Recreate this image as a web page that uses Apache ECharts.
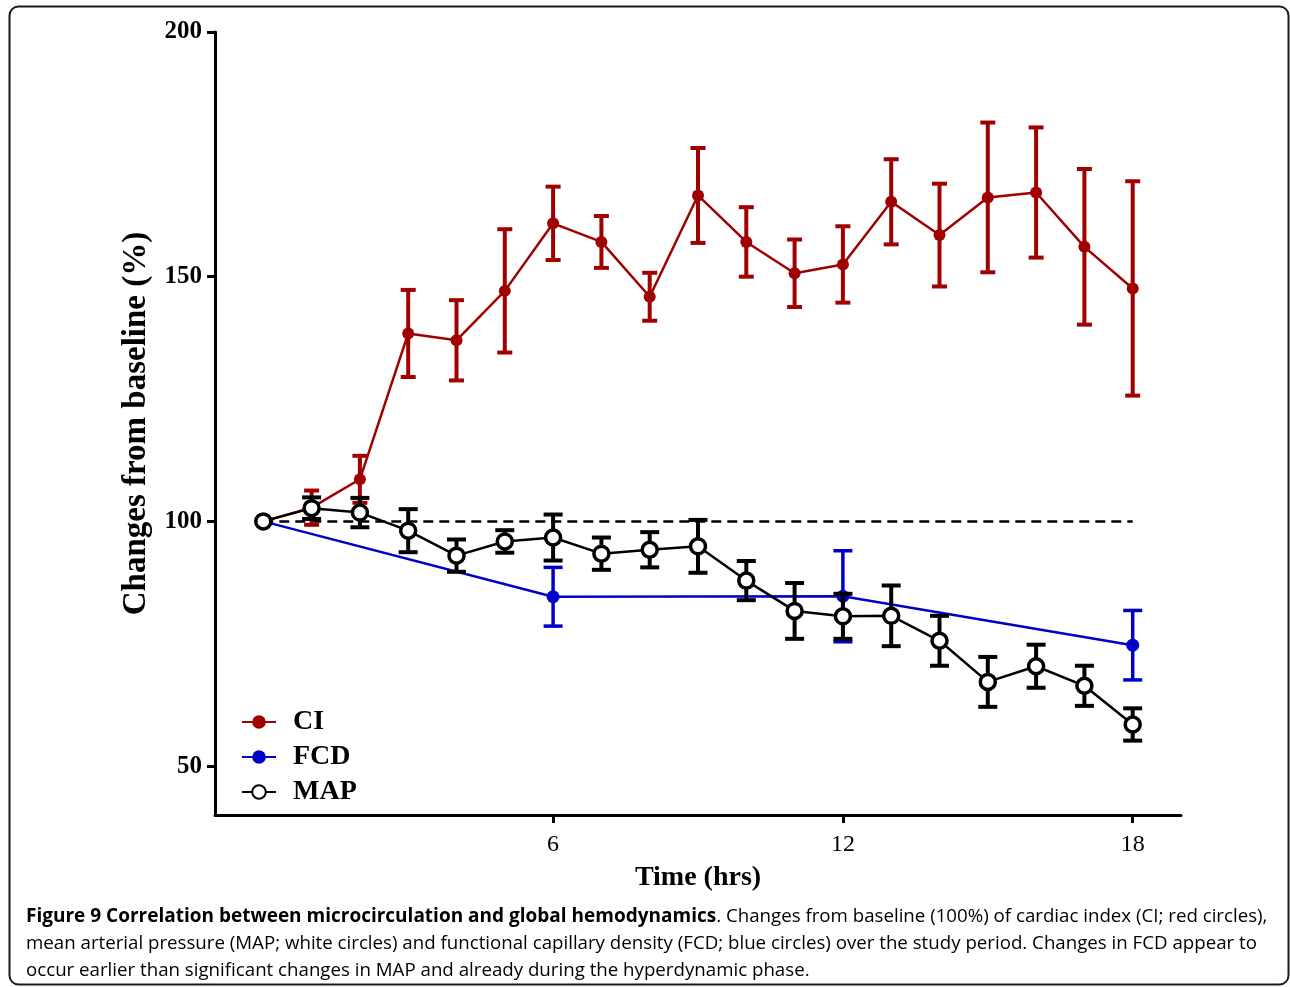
<!DOCTYPE html>
<html>
<head>
<meta charset="utf-8">
<script src="https://cdn.jsdelivr.net/npm/echarts@6/dist/echarts.min.js"></script>
<style>
html,body{margin:0;padding:0;background:#fff;}
#chart{width:1290px;height:987px;}
</style>
</head>
<body>
<div id="chart"></div>
<script>
// ---- data ----
var hours = [0,1,2,3,4,5,6,7,8,9,10,11,12,13,14,15,16,17,18];
var ciMean = [100,102.8,108.6,138.4,137.0,147.1,160.9,157.1,145.9,166.6,157.1,150.7,152.5,165.3,158.5,166.2,167.2,156.1,147.6];
var ciErr  = [0,3.5,4.8,8.9,8.2,12.6,7.5,5.3,4.9,9.7,7.1,6.9,7.8,8.7,10.5,15.3,13.3,15.9,21.9];
var mapMean = [100,102.7,101.8,98.1,93.0,95.9,96.7,93.4,94.2,94.9,87.9,81.7,80.6,80.7,75.6,67.2,70.4,66.4,58.5];
var mapErr  = [0,2.2,3.0,4.4,3.3,2.3,4.7,3.3,3.6,5.4,4.0,5.7,4.6,6.2,5.1,5.1,4.4,4.1,3.3];
var fcdHours = [0,6,12,18];
var fcdMean = [100,84.6,84.7,74.7];
var fcdErr  = [0,6.0,9.3,7.1];
var baselineHours = [0,18];
var baselineValue = 100;
var xTicks = [6,12,18];
var yTicks = [50,100,150,200];

var captionBold = 'Figure 9 Correlation between microcirculation and global hemodynamics';
var captionLines = [
  '. Changes from baseline (100%) of cardiac index (CI; red circles),',
  'mean arterial pressure (MAP; white circles) and functional capillary density (FCD; blue circles) over the study period. Changes in FCD appear to',
  'occur earlier than significant changes in MAP and already during the hyperdynamic phase.'
];

// ---- helpers ----
function pts(xs, ys){ return xs.map(function(x,i){ return [x, ys[i]]; }); }
function errData(xs, m, e){
  var out = [];
  xs.forEach(function(x,i){ if (e[i] > 0) out.push([x, m[i]-e[i], m[i]+e[i]]); });
  return out;
}
function errRender(color, capW, lw){
  return function(params, api){
    var x = api.value(0), lo = api.value(1), hi = api.value(2);
    var a = api.coord([x, lo]), b = api.coord([x, hi]);
    var h = capW/2;
    var st = {stroke: color, lineWidth: lw, lineCap: 'butt'};
    return {type:'group', children:[
      {type:'line', shape:{x1:a[0], y1:a[1], x2:b[0], y2:b[1]}, style:st},
      {type:'line', shape:{x1:a[0]-h, y1:a[1], x2:a[0]+h, y2:a[1]}, style:st},
      {type:'line', shape:{x1:b[0]-h, y1:b[1], x2:b[0]+h, y2:b[1]}, style:st}
    ]};
  };
}

var RED = '#a00000', BLUE = '#0000c8', BLACK = '#000000';
var SERIF = '"Liberation Serif","Times New Roman",serif';

var chart = echarts.init(document.getElementById('chart'), null, {renderer:'canvas'});
chart.setOption({
  animation: false,
  backgroundColor: '#ffffff',
  grid: {left: 215, right: 109, top: 32, bottom: 172, containLabel: false},
  xAxis: {
    type: 'value', min: -1, max: 19,
    name: 'Time (hrs)', nameLocation: 'middle', nameGap: 49,
    nameTextStyle: {fontFamily: SERIF, fontWeight: 'bold', fontSize: 28, color: '#000'},
    axisLine: {show: true, onZero: false, lineStyle: {color: '#000', width: 3}},
    axisTick: {show: true, length: 8, lineStyle: {color: '#000', width: 3}, customValues: xTicks},
    axisLabel: {customValues: xTicks, fontFamily: SERIF, fontSize: 24, color: '#000', margin: 18},
    splitLine: {show: false}
  },
  yAxis: {
    type: 'value', min: 40, max: 200,
    name: 'Changes from baseline (%)', nameLocation: 'middle', nameGap: 62,
    nameTextStyle: {fontFamily: SERIF, fontWeight: 'bold', fontSize: 33, color: '#000'},
    axisLine: {show: true, onZero: false, lineStyle: {color: '#000', width: 3}},
    axisTick: {show: true, length: 8, lineStyle: {color: '#000', width: 3}, customValues: yTicks},
    axisLabel: {customValues: yTicks, fontFamily: SERIF, fontWeight: 'bold', fontSize: 25, color: '#000', margin: 13},
    splitLine: {show: false}
  },
  legend: {
    orient: 'vertical', left: 236, top: 703,
    itemWidth: 34, itemHeight: 17, itemGap: 7,
    data: ['CI','FCD','MAP'],
    textStyle: {fontFamily: SERIF, fontWeight: 'bold', fontSize: 28, color: '#000', lineHeight: 28, padding: [0,0,0,12]}
  },
  series: [
    {
      name: 'baseline', type: 'line', data: pts(baselineHours, [baselineValue, baselineValue]),
      symbol: 'none', z: 2, silent: true,
      lineStyle: {color: '#000', width: 2.5, type: [10,6]}
    },
    {
      name: 'CI err', type: 'custom', z: 3, renderItem: errRender(RED, 15, 4),
      data: errData(hours, ciMean, ciErr)
    },
    {
      name: 'CI', type: 'line', z: 4, data: pts(hours, ciMean),
      symbol: 'circle', symbolSize: 12,
      itemStyle: {color: RED},
      lineStyle: {color: RED, width: 2.5}
    },
    {
      name: 'FCD err', type: 'custom', z: 5, renderItem: errRender(BLUE, 19, 3.5),
      data: errData(fcdHours, fcdMean, fcdErr)
    },
    {
      name: 'FCD', type: 'line', z: 6, data: pts(fcdHours, fcdMean),
      symbol: 'circle', symbolSize: 13,
      itemStyle: {color: BLUE},
      lineStyle: {color: BLUE, width: 2.5}
    },
    {
      name: 'MAP err', type: 'custom', z: 7, renderItem: errRender(BLACK, 19, 4),
      data: errData(hours, mapMean, mapErr)
    },
    {
      name: 'MAP', type: 'line', z: 8, data: pts(hours, mapMean),
      symbol: 'circle', symbolSize: 15,
      itemStyle: {color: '#ffffff', borderColor: BLACK, borderWidth: 3.5},
      lineStyle: {color: BLACK, width: 2.5}
    }
  ],
  graphic: [
    {
      type: 'rect', silent: true, z: 100,
      shape: {x: 9.5, y: 6.5, width: 1279, height: 978, r: 9},
      style: {fill: 'none', stroke: '#1a1a1a', lineWidth: 2}
    },
    {
      type: 'text', silent: true, z: 100, x: 26, y: 903,
      style: {
        text: '{b|' + captionBold + '}{n|' + captionLines[0] + '}\n{n|' + captionLines[1] + '}\n{n|' + captionLines[2] + '}',
        rich: {
          b: {fontFamily: '"Open Sans", sans-serif', fontWeight: 'bold', fontSize: 19, color: '#111', lineHeight: 27},
          n: {fontFamily: '"Open Sans", sans-serif', fontSize: 18.7, color: '#2e2e2e', lineHeight: 27}
        }
      }
    }
  ]
});
</script>
</body>
</html>
